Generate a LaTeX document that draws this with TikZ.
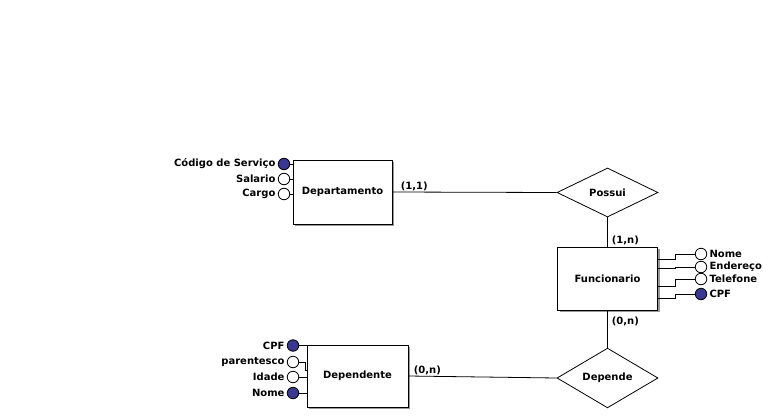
\documentclass[tikz,border=0pt]{standalone}
\usepackage{fontspec}
\setmainfont{DejaVu Sans}
\usetikzlibrary{calc, shapes.geometric, shadows}
\definecolor{azulchave}{RGB}{56,56,145}

\begin{document}
\begin{tikzpicture}[x=1pt, y=-1pt, line width=0.8pt, font=\fontsize{10}{12}\selectfont\bfseries,
    entidade/.style={rectangle, draw, line width=1pt, fill=white, minimum width=100pt, minimum height=63pt,
        drop shadow={shadow xshift=2pt, shadow yshift=-2pt, fill=black!40, opacity=1}},
    relacao/.style={diamond, draw, fill=white, inner sep=0pt, minimum width=101pt, minimum height=49pt},
    atrib/.style={circle, draw, inner sep=0pt, minimum size=11.5pt},
    card/.style={inner sep=1pt}]

        % limites da figura (o topo fica vazio)
        \useasboundingbox (0,0) rectangle (773,415);

        % entidades
        \node[entidade, minimum width=99pt, minimum height=64pt] (dpt) at (342.5,192) {Departamento};
        \node[entidade] (fun) at (607.5,278.5) {Funcionario};
        \node[entidade, minimum width=101pt, minimum height=62pt] (dep) at (357.5,376) {Dependente};

        % relacionamentos
        \node[relacao] (possui) at (607.5,192.5) {Possui};
        \node[relacao] (depende) at (607.5,378) {Depende};

        % ligacoes com cardinalidade
        \draw (dpt.east) -- node[card, pos=0, anchor=south west, xshift=7pt] {(1,1)} (possui.west);
        \draw (possui.south) -- node[card, pos=1, anchor=south west, xshift=3pt] {(1,n)} (fun.north);
        \draw (fun.south) -- node[card, pos=0, anchor=north west, xshift=3pt, yshift=-5pt] {(0,n)} (depende.north);
        \draw (dep.east) -- node[card, pos=0, anchor=south west, xshift=4pt] {(0,n)} (depende.west);

        % atributos de Departamento
        \foreach \nome/\yy/\cor [count=\i] in {Código de Serviço/164/azulchave, Salario/179/white, Cargo/194/white} {
            \node[atrib, fill=\cor, label={[card, label distance=1pt]left:\nome}] (da\i) at (284,\yy) {};
            \draw (da\i.east) -- (dpt.west |- da\i);
        }

        % atributos de Funcionario
        \foreach \nome/\yy/\yb/\cor [count=\i] in {Nome/254/259/white, Endereço/267/268/white, Telefone/279/286/white, CPF/294/298/azulchave} {
            \node[atrib, fill=\cor, label={[card, label distance=1pt]right:\nome}] (fa\i) at (701,\yy) {};
            \coordinate (fb\i) at (657.5,\yb);
            \draw (fun.east |- fb\i) -- ++(17.5,0) |- (fa\i.west);
        }

        % atributos de Dependente
        \foreach \nome/\yy/\cor [count=\i] in {CPF/345.5/azulchave, parentesco/362/white, Idade/377/white, Nome/393/azulchave}
            \node[atrib, fill=\cor, label={[card, label distance=1pt]left:\nome}] (dp\i) at (293,\yy) {};
        \coordinate (dq) at (307,370);
        \draw (dp1.east) -- (dep.west |- dp1);
        \draw (dp2.east) -- ++(6.5,0) |- (dep.west |- dq);
        \draw (dp3.east) -- (dep.west |- dp3);
        \draw (dp4.east) -- (dep.west |- dp4);

\end{tikzpicture}
\end{document}
